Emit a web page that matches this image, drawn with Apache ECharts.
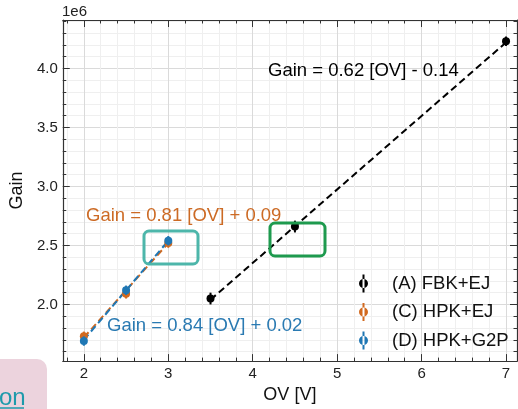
<!DOCTYPE html>
<html>
<head>
<meta charset="utf-8">
<script src="https://cdn.jsdelivr.net/npm/echarts@6/dist/echarts.min.js"></script>
<style>
html,body{margin:0;padding:0;background:#fff;}
#chart{width:518px;height:409px;}
</style>
</head>
<body>
<div id="chart"></div>
<script>
// ---- data (Gain in units of 1e6) ----
const seriesNames = ['(A) FBK+EJ', '(C) HPK+EJ', '(D) HPK+G2P'];
const ovA = [3.5, 4.5, 7.0];
const gainA = [2.05, 2.66, 4.23];
const errA = [0.05, 0.05, 0.04];
const ovC = [2.0, 2.5, 3.0];
const gainC = [1.73, 2.09, 2.52];
const errC = [0.04, 0.04, 0.04];
const ovD = [2.0, 2.5, 3.0];
const gainD = [1.69, 2.12, 2.54];
const errD = [0.04, 0.04, 0.04];
// fitted lines (end points)
const fitAx = [3.5, 7.0];
const fitAy = [2.04, 4.22];
const fitCx = [2.0, 3.0];
const fitCy = [1.72, 2.52];
const fitDx = [2.0, 3.0];
const fitDy = [1.70, 2.54];
const fitLabels = ['Gain = 0.62 [OV] - 0.14', 'Gain = 0.81 [OV] + 0.09', 'Gain = 0.84 [OV] + 0.02'];
// ticks
const xMajorTicks = [2, 3, 4, 5, 6, 7];
const yMajorTicks = [2.0, 2.5, 3.0, 3.5, 4.0];
const xMinorStep = 0.2, yMinorStep = 0.1;
const xRange = [1.75, 7.13];
const yRange = [1.52, 4.41];

const colors = ['#000000', '#d2691e', '#1f77b4'];
const FONT = "'Liberation Sans', Arial, Helvetica, sans-serif";

function minorTicks(range, step, majors) {
  const out = [];
  const start = Math.ceil(range[0] / step - 1e-9);
  for (let i = start; i * step <= range[1] + 1e-9; i++) {
    const v = Math.round(i * step * 1000) / 1000;
    if (!majors.some(m => Math.abs(m - v) < 1e-6)) out.push(v);
  }
  return out;
}
const xMinor = minorTicks(xRange, xMinorStep, xMajorTicks);
const yMinor = minorTicks(yRange, yMinorStep, yMajorTicks);

const pairs = (xs, ys) => xs.map((x, i) => [x, ys[i]]);
const triples = (xs, ys, es) => xs.map((x, i) => [x, ys[i], es[i]]);

const axisColor = '#333';
const majorGrid = '#dadada';
const minorGrid = '#efefef';

function xAx(pos, major, labels, grid) {
  return {
    type: 'value', position: pos, min: xRange[0], max: xRange[1],
    axisLine: { show: major, onZero: false, lineStyle: { color: axisColor, width: 1.2 } },
    axisTick: { show: true, inside: true, length: major ? 7 : 3.5, customValues: major ? xMajorTicks : xMinor,
      lineStyle: { color: axisColor, width: 1 } },
    axisLabel: { show: labels, customValues: xMajorTicks, color: '#222', fontSize: 15, fontFamily: FONT, margin: 5,
      formatter: v => String(v) },
    splitLine: { show: grid, lineStyle: { color: major ? majorGrid : minorGrid, width: 1 } },
    name: labels ? 'OV [V]' : '', nameLocation: 'middle', nameGap: 23,
    nameTextStyle: { fontSize: 18, color: '#111', fontFamily: FONT, verticalAlign: 'top' }
  };
}
function yAx(pos, major, labels, grid) {
  return {
    type: 'value', position: pos, min: yRange[0], max: yRange[1],
    axisLine: { show: major, onZero: false, lineStyle: { color: axisColor, width: 1.2 } },
    axisTick: { show: true, inside: true, length: major ? 7 : 3.5, customValues: major ? yMajorTicks : yMinor,
      lineStyle: { color: axisColor, width: 1 } },
    axisLabel: { show: labels, customValues: yMajorTicks, color: '#222', fontSize: 15, fontFamily: FONT, margin: 5,
      formatter: v => v.toFixed(1) },
    splitLine: { show: grid, lineStyle: { color: major ? majorGrid : minorGrid, width: 1 } },
    name: labels ? 'Gain' : '', nameLocation: 'middle', nameGap: 26,
    nameTextStyle: { fontSize: 18, color: '#111', fontFamily: FONT }
  };
}

function errRender(color) {
  return function (params, api) {
    const x = api.value(0), y = api.value(1), e = api.value(2);
    const lo = api.coord([x, y - e]);
    const hi = api.coord([x, y + e]);
    const c = api.coord([x, y]);
    return {
      type: 'group',
      children: [
        { type: 'line', shape: { x1: lo[0], y1: lo[1], x2: hi[0], y2: hi[1] }, style: { stroke: color, lineWidth: 2 } },
        { type: 'circle', shape: { cx: c[0], cy: c[1], r: 4 }, style: { fill: color } }
      ]
    };
  };
}

function fitLine(name, data, color) {
  return {
    type: 'line', name: name + ' fit', data: data, showSymbol: false, symbol: 'none',
    xAxisIndex: 0, yAxisIndex: 0, silent: true, z: 3,
    lineStyle: { color: color, width: 2, type: [7, 4] }
  };
}
function pts(name, data, color) {
  return {
    type: 'custom', name: name, data: data, renderItem: errRender(color),
    xAxisIndex: 0, yAxisIndex: 0, z: 4, itemStyle: { color: color },
    encode: { x: 0, y: [1] }
  };
}

const legendIcon = 'path://M3.5,0H5.5V18H3.5Z M0,9A4.5,4.5 0 1,0 9,9A4.5,4.5 0 1,0 0,9Z';

const chart = echarts.init(document.getElementById('chart'), null, { renderer: 'canvas' });
chart.setOption({
  animation: false,
  backgroundColor: '#ffffff',
  textStyle: { fontFamily: FONT },
  grid: { left: 61, top: 20, right: 1, bottom: 42, containLabel: false },
  xAxis: [
    xAx('bottom', true, true, true),
    xAx('bottom', false, false, true),
    xAx('top', true, false, false),
    xAx('top', false, false, false)
  ],
  yAxis: [
    yAx('left', true, true, true),
    yAx('left', false, false, true),
    yAx('right', true, false, false),
    yAx('right', false, false, false)
  ],
  legend: {
    orient: 'vertical', left: 354, top: 269, itemWidth: 9, itemHeight: 18, itemGap: 9.5,
    data: seriesNames.map((n, i) => ({ name: n, icon: legendIcon, itemStyle: { color: colors[i] } })),
    textStyle: { fontSize: 18.5, color: '#111', fontFamily: FONT, padding: [0, 0, 0, 19] },
    selectedMode: false
  },
  series: [
    fitLine(seriesNames[0], pairs(fitAx, fitAy), colors[0]),
    fitLine(seriesNames[1], pairs(fitCx, fitCy), colors[1]),
    fitLine(seriesNames[2], pairs(fitDx, fitDy), colors[2]),
    pts(seriesNames[0], triples(ovA, gainA, errA), colors[0]),
    pts(seriesNames[1], triples(ovC, gainC, errC), colors[1]),
    pts(seriesNames[2], triples(ovD, gainD, errD), colors[2])
  ],
  graphic: [
    { type: 'text', left: 62, top: 4, z: 20, style: { text: '1e6', fontSize: 15, fill: '#222', fontFamily: FONT } },
    { type: 'text', x: 268, y: 71, z: 20, style: { text: fitLabels[0], fontSize: 18.5, fill: colors[0], fontFamily: FONT, verticalAlign: 'middle' } },
    { type: 'text', x: 86, y: 216, z: 20, style: { text: fitLabels[1], fontSize: 18.5, fill: '#cc6a24', fontFamily: FONT, verticalAlign: 'middle' } },
    { type: 'text', x: 107, y: 326, z: 20, style: { text: fitLabels[2], fontSize: 18.5, fill: '#2a7ab2', fontFamily: FONT, verticalAlign: 'middle' } },
    { type: 'rect', z: 20, shape: { x: 144, y: 231, width: 54, height: 33, r: 5 }, style: { fill: 'none', stroke: '#4db6aa', lineWidth: 3 } },
    { type: 'rect', z: 20, shape: { x: 270, y: 223, width: 55, height: 33, r: 5 }, style: { fill: 'none', stroke: '#1e9a4e', lineWidth: 3 } },
    { type: 'rect', z: 20, shape: { x: -12, y: 359, width: 59, height: 70, r: 10 }, style: { fill: '#ecd3dd' } },
    { type: 'text', x: -1, y: 398, z: 21, style: { text: 'on', fontSize: 24, fill: '#1e9aab', fontFamily: FONT, verticalAlign: 'middle' } },
    { type: 'line', z: 21, shape: { x1: 0, y1: 408, x2: 24, y2: 408 }, style: { stroke: '#1e9aab', lineWidth: 1.5 } }
  ]
});
</script>
</body>
</html>
